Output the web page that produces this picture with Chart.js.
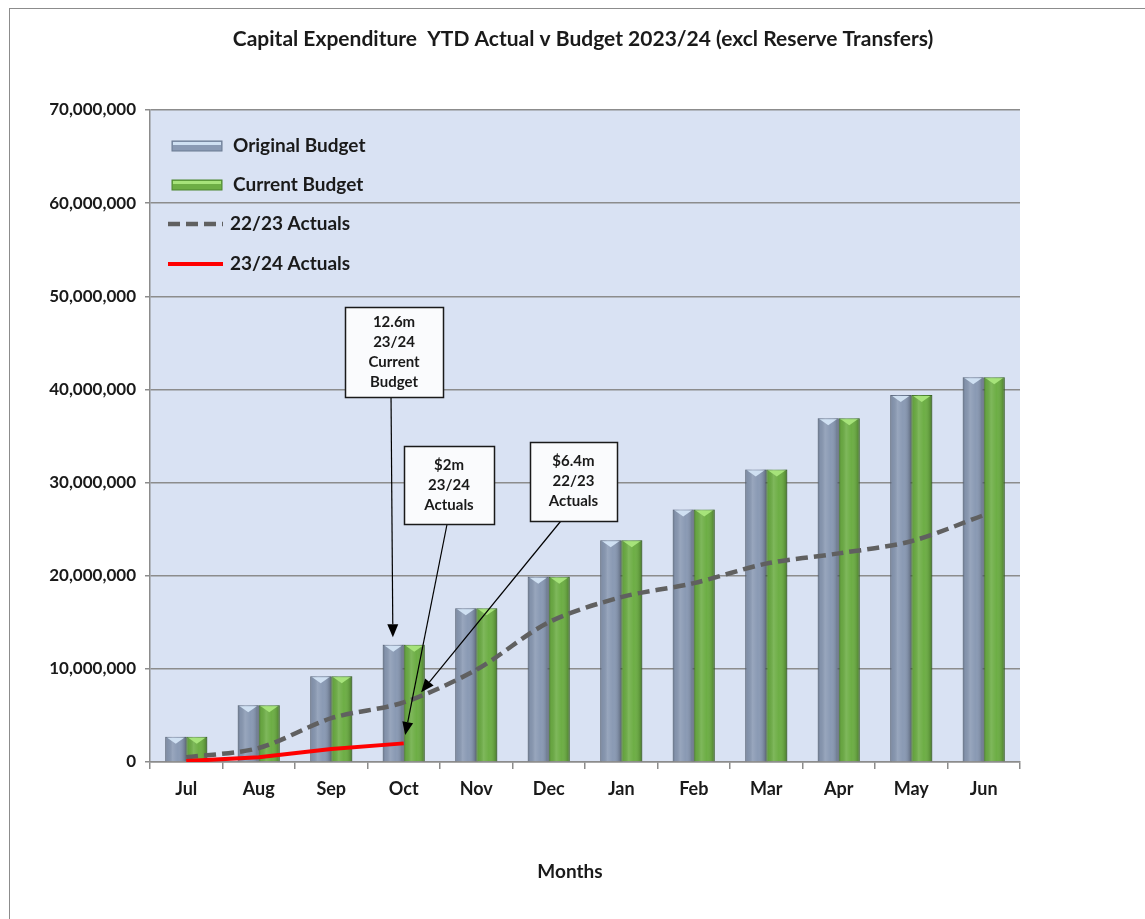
<!DOCTYPE html>
<html>
<head>
<meta charset="utf-8">
<script src="https://cdn.jsdelivr.net/npm/chart.js@4/dist/chart.umd.min.js"></script>
<style>
  body { margin: 0; background: #fff; }
  #frame { position: absolute; left: 9px; top: 8px; width: 1136px; height: 911px; border-top: 1px solid #8c8c8c; border-left: 1px solid #8c8c8c; }
  #wrap { position: absolute; left: 0; top: 0; width: 1145px; height: 919px; }
</style>
</head>
<body>
<div id="frame"></div>
<div id="wrap"><canvas id="chart" width="1145" height="919"></canvas></div>
<script>

// Data
var months = ['Jul', 'Aug', 'Sep', 'Oct', 'Nov', 'Dec', 'Jan', 'Feb', 'Mar', 'Apr', 'May', 'Jun'];
var originalBudget = [2.7e6, 6.1e6, 9.2e6, 12.6e6, 16.5e6, 19.9e6, 23.8e6, 27.1e6, 31.4e6, 36.9e6, 39.4e6, 41.3e6];
var currentBudget = [2.7e6, 6.1e6, 9.2e6, 12.6e6, 16.5e6, 19.9e6, 23.8e6, 27.1e6, 31.4e6, 36.9e6, 39.4e6, 41.3e6];
var actuals2223 = [0.5e6, 1.5e6, 4.7e6, 6.4e6, 9.9e6, 15.0e6, 17.7e6, 19.2e6, 21.3e6, 22.4e6, 23.7e6, 26.5e6];
var actuals2324 = [0.1e6, 0.5e6, 1.4e6, 2.0e6];
var yMax = 70e6;
var yStep = 10e6;

// Callouts: text, box centre and arrow tip (category index, value)
var calloutText = [
	['12.6m', '23/24', 'Current', 'Budget'],
	['$2m', '23/24', 'Actuals'],
	['$6.4m', '22/23', 'Actuals']
];
var calloutBox = [[2.866, 44.0e6], [3.624, 29.7e6], [5.341, 30.1e6]];
var calloutTip = [[2.85, 13.4e6], [3.02, 2.9e6], [3.24, 7.5e6]];

// Box sizes and where the arrow leaves the box (px)
var boxSize = [[98, 90], [90, 78], [87, 79]];
var arrowStartDx = [-3, -2, -13];

var FONT = 'Lato, "Open Sans", sans-serif';
var TEXT = '#1a1a1a';
var GRID = '#8c8c8c';

// Plot area background
var plotBackground = {
	id: 'plotBackground',
	beforeDraw: function (chart) {
		var a = chart.chartArea, ctx = chart.ctx;
		ctx.save();
		ctx.fillStyle = '#d9e2f3';
		ctx.fillRect(a.left, a.top, a.right - a.left, a.bottom - a.top);
		ctx.restore();
	}
};

// Shading and top bevel on the bars, so they look like the Excel ones
var barBevel = {
	id: 'barBevel',
	afterDatasetDraw: function (chart, args) {
		var ds = chart.data.datasets[args.index];
		if (!ds.bevelColor) return;
		var ctx = chart.ctx;
		ctx.save();
		args.meta.data.forEach(function (bar) {
			var p = bar.getProps(['x', 'y', 'base', 'width'], true);
			var l = p.x - p.width / 2, w = p.width, t = p.y, b = p.base;
			var g = ctx.createLinearGradient(l, 0, l + w, 0);
			g.addColorStop(0, 'rgba(0,0,0,0.22)');
			g.addColorStop(0.12, 'rgba(0,0,0,0.05)');
			g.addColorStop(0.35, 'rgba(255,255,255,0.12)');
			g.addColorStop(0.6, 'rgba(255,255,255,0)');
			g.addColorStop(0.85, 'rgba(0,0,0,0.10)');
			g.addColorStop(1, 'rgba(0,0,0,0.30)');
			ctx.fillStyle = g;
			ctx.fillRect(l, t, w, b - t);
			ctx.beginPath();
			ctx.moveTo(l + 2, t + 1);
			ctx.lineTo(l + w - 2, t + 1);
			ctx.lineTo(l + w / 2, t + 7);
			ctx.closePath();
			ctx.fillStyle = ds.bevelColor;
			ctx.fill();
		});
		ctx.restore();
	}
};

// Title, axis title, legend inside the plot, callouts with arrows
var overlay = {
	id: 'overlay',
	afterDraw: function (chart) {
		var ctx = chart.ctx, a = chart.chartArea;
		var xs = chart.scales.x, ys = chart.scales.y;
		ctx.save();

		// Titles
		ctx.fillStyle = TEXT;
		ctx.font = 'bold 21px ' + FONT;
		ctx.textAlign = 'center';
		ctx.textBaseline = 'middle';
		ctx.fillText('Capital Expenditure  YTD Actual v Budget 2023/24 (excl Reserve Transfers)', 583, 39);
		ctx.font = 'bold 19px ' + FONT;
		ctx.fillText('Months', 570, 872);

		// Legend
		var ds = chart.data.datasets;
		var rows = [36, 75, 114, 154];
		ctx.font = 'bold 19px ' + FONT;
		ctx.textAlign = 'left';
		ds.forEach(function (d, i) {
			var y = a.top + rows[i];
			if (d.type === 'line') {
				ctx.beginPath();
				ctx.setLineDash(d.borderDash || []);
				ctx.strokeStyle = d.borderColor;
				ctx.lineWidth = d.borderWidth;
				ctx.moveTo(a.left + 18, y);
				ctx.lineTo(a.left + 73, y);
				ctx.stroke();
				ctx.setLineDash([]);
				ctx.fillStyle = TEXT;
				ctx.fillText(d.label, a.left + 80, y);
			} else {
				ctx.fillStyle = d.backgroundColor;
				ctx.fillRect(a.left + 22, y - 5, 50, 10);
				ctx.fillStyle = d.bevelColor;
				ctx.fillRect(a.left + 23, y - 4, 48, 3);
				ctx.strokeStyle = d.borderColor;
				ctx.lineWidth = 1;
				ctx.strokeRect(a.left + 22, y - 5, 50, 10);
				ctx.fillStyle = TEXT;
				ctx.fillText(d.label, a.left + 83, y);
			}
		});

		// Callouts
		ctx.font = 'bold 15px ' + FONT;
		ctx.textAlign = 'center';
		calloutText.forEach(function (lines, i) {
			var cx = xs.getPixelForValue(calloutBox[i][0]);
			var cy = ys.getPixelForValue(calloutBox[i][1]);
			var w = boxSize[i][0], h = boxSize[i][1];
			var l = Math.round(cx - w / 2) + 0.5, t = Math.round(cy - h / 2) + 0.5;

			// arrow
			var sx = cx + arrowStartDx[i], sy = t + h;
			var tx = xs.getPixelForValue(calloutTip[i][0]);
			var ty = ys.getPixelForValue(calloutTip[i][1]);
			var ang = Math.atan2(ty - sy, tx - sx);
			var hl = 13, hw = 5.5;
			var bx = tx - hl * Math.cos(ang), by = ty - hl * Math.sin(ang);
			ctx.strokeStyle = '#000';
			ctx.lineWidth = 1.2;
			ctx.beginPath();
			ctx.moveTo(sx, sy);
			ctx.lineTo(bx, by);
			ctx.stroke();
			ctx.beginPath();
			ctx.moveTo(tx, ty);
			ctx.lineTo(bx + hw * Math.sin(ang), by - hw * Math.cos(ang));
			ctx.lineTo(bx - hw * Math.sin(ang), by + hw * Math.cos(ang));
			ctx.closePath();
			ctx.fillStyle = '#000';
			ctx.fill();

			// box
			ctx.fillStyle = '#fafbfd';
			ctx.fillRect(l, t, w, h);
			ctx.strokeStyle = '#1a1a1a';
			ctx.lineWidth = 1.5;
			ctx.strokeRect(l, t, w, h);
			ctx.fillStyle = TEXT;
			var lh = 20;
			var y0 = cy - (lines.length - 1) * lh / 2;
			lines.forEach(function (s, k) {
				ctx.fillText(s, cx, y0 + k * lh);
			});
		});
		ctx.restore();
	}
};

new Chart(document.getElementById('chart').getContext('2d'), {
	data: {
		labels: months,
		datasets: [
			{
				type: 'bar',
				label: 'Original Budget',
				data: originalBudget,
				backgroundColor: '#8a9ab4',
				borderColor: '#6b7a92',
				borderWidth: 1,
				bevelColor: '#cfe0f2',
				categoryPercentage: 0.58,
				barPercentage: 1,
				order: 2
			},
			{
				type: 'bar',
				label: 'Current Budget',
				data: currentBudget,
				backgroundColor: '#6dae45',
				borderColor: '#4c8530',
				borderWidth: 1,
				bevelColor: '#a6e37a',
				categoryPercentage: 0.58,
				barPercentage: 1,
				order: 2
			},
			{
				type: 'line',
				label: '22/23 Actuals',
				data: actuals2223,
				borderColor: '#606060',
				borderWidth: 4.5,
				borderDash: [12, 6],
				tension: 0.3,
				pointRadius: 0,
				order: 1
			},
			{
				type: 'line',
				label: '23/24 Actuals',
				data: actuals2324,
				borderColor: '#ff0000',
				borderWidth: 4,
				tension: 0,
				pointRadius: 0,
				order: 0
			}
		]
	},
	options: {
		responsive: false,
		animation: false,
		layout: {
			padding: { top: 110, right: 125, left: 0, bottom: 0 }
		},
		plugins: {
			legend: { display: false },
			tooltip: { enabled: false },
			title: { display: false }
		},
		scales: {
			x: {
				offset: true,
				grid: {
					offset: true,
					drawOnChartArea: false,
					drawTicks: true,
					tickLength: 7,
					color: GRID,
					lineWidth: 1.5
				},
				border: { color: GRID, width: 1.5 },
				ticks: {
					color: TEXT,
					font: { family: FONT, size: 18, weight: 'bold' },
					padding: 9
				},
				afterFit: function (scale) { scale.height = 157; }
			},
			y: {
				min: 0,
				max: yMax,
				grid: {
					color: GRID,
					lineWidth: 1.5,
					drawTicks: true,
					tickLength: 5
				},
				border: { color: GRID, width: 1.5 },
				ticks: {
					stepSize: yStep,
					color: TEXT,
					font: { family: FONT, size: 17, weight: 'bold' },
					padding: 9,
					callback: function (v) { return v.toLocaleString('en-US'); }
				},
				afterFit: function (scale) { scale.width = 150; }
			}
		}
	},
	plugins: [plotBackground, barBevel, overlay]
});
</script>
</body>
</html>
